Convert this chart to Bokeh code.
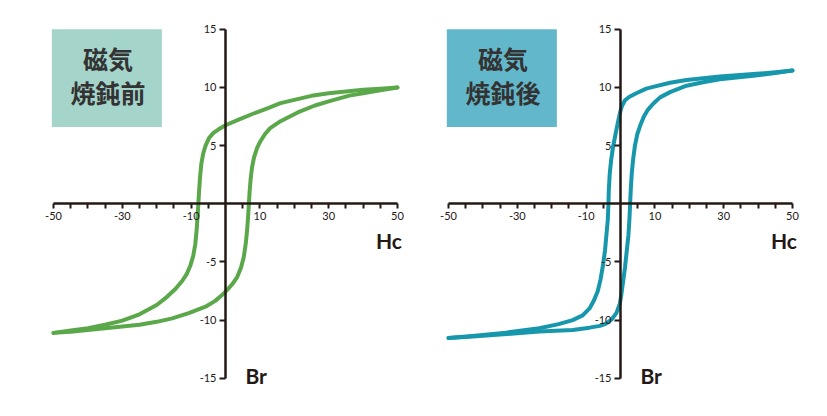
from bokeh.plotting import figure
from bokeh.layouts import row
from bokeh.models import Range1d, FixedTicker, Label, BoxAnnotation
from bokeh.embed import file_html
from bokeh.resources import INLINE

# ---- data ----
# before annealing (磁気焼鈍前): descending (upper) and ascending (lower) branches
before_desc_h = [50, 45, 40, 35, 30, 25, 20, 16, 12, 8, 4, 0, -2, -3.5, -4.8, -5.8, -6.5, -7.0, -7.4, -7.7, -7.9,
                 -8.1, -8.4, -8.8, -9.4, -10.2, -11.2, -12.5, -14.5, -17, -20, -25, -30, -35, -40, -45, -50]
before_desc_b = [10.0, 9.9, 9.8, 9.66, 9.5, 9.28, 8.93, 8.65, 8.19, 7.74, 7.25, 6.75, 6.4, 6.1, 5.65, 5.0, 4.3, 3.5, 2.3, 1.0, 0.0,
                 -1.0, -2.3, -3.5, -4.5, -5.3, -6.0, -6.6, -7.3, -8.0, -8.7, -9.5, -10.05, -10.4, -10.7, -10.9, -11.1]
before_asc_h = [-50, -45, -40, -35, -30, -25, -20, -15.5, -10.7, -5.8, -3, -1, 0.5, 2, 3.4, 4.5, 5.3, 5.9, 6.3, 6.6, 6.8,
                7.0, 7.3, 7.7, 8.3, 9.2, 10.2, 11.5, 13, 16, 21, 26, 30, 36, 40, 45, 50]
before_asc_b = [-11.1, -11.0, -10.85, -10.7, -10.55, -10.4, -10.15, -9.85, -9.4, -8.85, -8.35, -7.85, -7.4, -6.9, -6.3, -5.5, -4.6, -3.4, -2.2, -1.0, 0.0,
                1.0, 2.1, 3.1, 4.0, 4.8, 5.4, 6.0, 6.5, 7.1, 7.85, 8.45, 8.8, 9.3, 9.5, 9.75, 10.0]

# after annealing (磁気焼鈍後)
after_desc_h = [50, 45, 38.6, 28.9, 19.2, 14.4, 9.5, 7.5, 4.6, 2.6, 1.3, 0.5, 0, -0.6, -1.3, -2.1, -2.7, -3.1, -3.4, -3.5,
                -3.7, -4.1, -4.5, -5.1, -5.8, -6.6, -7.7, -9.0, -11, -13.9, -18, -23.6, -33.3, -43.1, -50]
after_desc_b = [11.45, 11.3, 11.15, 10.95, 10.65, 10.4, 10.05, 9.9, 9.5, 9.2, 8.9, 8.45, 8.0, 7.2, 6.2, 5.0, 3.8, 2.7, 1.2, 0.0,
                -1.4, -2.7, -4.0, -5.3, -6.5, -7.5, -8.3, -9.0, -9.6, -10.0, -10.35, -10.7, -11.08, -11.36, -11.55]
after_asc_h = [-50, -43, -33, -23.6, -13.9, -9.0, -6, -4.2, -2.6, -1.2, -0.2, 0.3, 0.8, 1.3, 1.8, 2.3, 2.6, 2.8,
               3.0, 3.3, 3.7, 4.2, 4.9, 5.7, 6.8, 8.0, 9.5, 11.5, 14.4, 19.2, 24, 28.9, 38.6, 45, 50]
after_asc_b = [-11.55, -11.42, -11.2, -10.98, -10.85, -10.65, -10.5, -10.3, -9.95, -9.4, -8.6, -7.7, -6.6, -5.5, -4.1, -2.7, -1.3, 0.0,
               1.3, 2.7, 3.9, 5.0, 6.0, 6.7, 7.5, 8.1, 8.6, 9.15, 9.6, 10.15, 10.45, 10.7, 11.0, 11.25, 11.45]

x_labeled_ticks = [-50, -30, -10, 10, 30, 50]
x_minor_ticks = [-45, -40, -35, -25, -20, -15, -5, 5, 15, 20, 25, 35, 40, 45]
y_ticks = [-15, -10, -5, 5, 10, 15]

titles = [["磁気", "焼鈍前"], ["磁気", "焼鈍後"]]
line_colors = ["#5ba84a", "#1797ab"]
box_colors = ["#a4d4ca", "#63b7ca"]

AXIS_COLOR = "#231815"
TICK_FONT = "Lato"


def make_panel(desc_h, desc_b, asc_h, asc_b, title, line_color, box_color, left_border, right_border):
    p = figure(frame_width=368, frame_height=378,
               x_range=Range1d(-53.5, 53.5), y_range=Range1d(-17.0, 15.5),
               output_backend="svg", toolbar_location=None,
               min_border_left=left_border, min_border_right=right_border,
               min_border_top=23, min_border_bottom=5)
    p.outline_line_color = None
    p.grid.visible = False
    p.background_fill_color = "white"
    p.border_fill_color = "white"

    # x axis crossing at B = 0
    xa = p.xaxis[0]
    xa.fixed_location = 0
    xa.bounds = (-50, 50)
    xa.ticker = FixedTicker(ticks=x_labeled_ticks, minor_ticks=x_minor_ticks)
    xa.major_label_overrides = {t: str(t) for t in x_labeled_ticks}
    xa.axis_line_color = AXIS_COLOR
    xa.axis_line_width = 2.5
    xa.major_tick_line_color = AXIS_COLOR
    xa.minor_tick_line_color = AXIS_COLOR
    xa.major_tick_line_width = 2
    xa.minor_tick_line_width = 2
    xa.major_tick_in = 0
    xa.major_tick_out = 5
    xa.minor_tick_in = 0
    xa.minor_tick_out = 5
    xa.major_label_standoff = 3
    xa.major_label_text_font = TICK_FONT
    xa.major_label_text_font_size = "11px"
    xa.major_label_text_color = "#231815"

    # y axis crossing at H = 0
    ya = p.yaxis[0]
    ya.fixed_location = 0
    ya.bounds = (-15, 15)
    ya.ticker = FixedTicker(ticks=y_ticks)
    ya.major_label_overrides = {t: str(t) for t in y_ticks}
    ya.axis_line_color = AXIS_COLOR
    ya.axis_line_width = 2.5
    ya.major_tick_line_color = AXIS_COLOR
    ya.major_tick_line_width = 2
    ya.major_tick_in = 0
    ya.major_tick_out = 6
    ya.minor_tick_line_color = None
    ya.major_label_standoff = 3
    ya.major_label_text_font = TICK_FONT
    ya.major_label_text_font_size = "11px"
    ya.major_label_text_color = "#231815"

    # title box
    p.add_layout(BoxAnnotation(left=-50.5, right=-18.5, top=15.0, bottom=6.6,
                               fill_color=box_color, fill_alpha=1.0, line_color=None,
                               level="underlay"))
    p.add_layout(Label(x=-34.2, y=12.55, text=title[0], text_align="center", text_baseline="middle",
                       text_font="Noto Sans CJK JP", text_font_style="bold",
                       text_font_size="25px", text_color="#333333"))
    p.add_layout(Label(x=-34.2, y=9.6, text=title[1], text_align="center", text_baseline="middle",
                       text_font="Noto Sans CJK JP", text_font_style="bold",
                       text_font_size="25px", text_color="#333333"))

    # curves
    p.line(desc_h, desc_b, line_color=line_color, line_width=4, line_join="round", line_cap="round")
    p.line(asc_h, asc_b, line_color=line_color, line_width=4, line_join="round", line_cap="round")

    # axis names
    p.add_layout(Label(x=51.3, y=-3.2, text="Hc", text_align="right", text_baseline="alphabetic",
                       text_font=TICK_FONT, text_font_style="bold", text_font_size="21px",
                       text_color="#231815"))
    p.add_layout(Label(x=5.8, y=-14.75, text="Br", text_align="left", text_baseline="alphabetic",
                       text_font=TICK_FONT, text_font_style="bold", text_font_size="21px",
                       text_color="#231815"))
    return p


p1 = make_panel(before_desc_h, before_desc_b, before_asc_h, before_asc_b,
                titles[0], line_colors[0], box_colors[0], 41, 2)
p2 = make_panel(after_desc_h, after_desc_b, after_asc_h, after_asc_b,
                titles[1], line_colors[1], box_colors[1], 25, 10)

layout = row(p1, p2)
open("out.html", "w").write(file_html(layout, INLINE))
